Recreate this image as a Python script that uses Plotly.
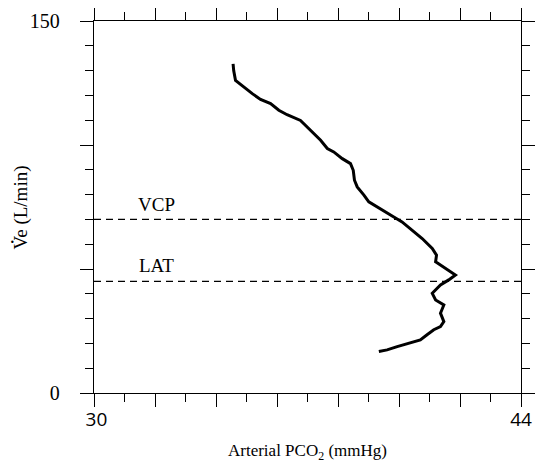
import plotly.graph_objects as go

# Traced curve: arterial PCO2 (mmHg) vs ventilation (L/min)
pco2 = [39.34, 39.61, 39.94, 40.38, 40.70, 40.92, 41.14, 41.36, 41.47, 41.36,
        41.47, 41.20, 41.09, 41.36, 41.63, 41.85, 41.47, 41.20, 41.23, 41.09,
        40.76, 40.43, 40.10, 39.83, 39.39, 39.01, 38.85, 38.63, 38.54, 38.50,
        38.41, 38.14, 37.86, 37.65, 37.43, 37.10, 36.77, 36.33, 36.06, 35.79,
        35.46, 35.19, 34.97, 34.75, 34.64, 34.58, 34.56]
ve = [16.7, 17.4, 18.7, 20.1, 21.4, 23.5, 25.5, 26.8, 28.8, 32.2,
      35.5, 37.5, 40.2, 43.6, 45.6, 47.6, 50.9, 52.9, 55.6, 58.3,
      62.3, 65.7, 69.0, 71.0, 74.4, 77.1, 79.8, 83.1, 85.8, 89.8,
      92.5, 94.5, 97.2, 98.6, 101.9, 105.9, 109.9, 112.2, 114.0, 116.7,
      118.4, 120.7, 122.7, 124.7, 126.0, 130.0, 132.7]

threshold_names = ["VCP", "LAT"]
threshold_values = [70, 45]

x_range = [30, 44]
y_range = [0, 150]
x_major = [30, 32, 34, 36, 38, 40, 42, 44]
x_labels = ["\u00a030", "", "", "", "", "", "", "44"]
y_major = [0, 50, 100, 150]
y_labels = ["0", "", "", "150"]

SERIF = "Liberation Serif"
SANS = "Open Sans"

fig = go.Figure()
fig.add_trace(go.Scatter(x=pco2, y=ve, mode="lines",
                         line=dict(color="black", width=3), showlegend=False))

for name, val in zip(threshold_names, threshold_values):
    fig.add_trace(go.Scatter(x=x_range, y=[val, val], mode="lines",
                             line=dict(color="black", width=1.2, dash="7px,5px"),
                             showlegend=False))

label_pos_x = [32.05, 32.05]
label_pos_y = [76.1, 51.3]
for name, lx, ly in zip(threshold_names, label_pos_x, label_pos_y):
    fig.add_annotation(x=lx, y=ly, text=name, showarrow=False,
                       font=dict(family=SERIF, size=19, color="black"))

fig.add_annotation(xref="paper", yref="paper", x=0.5, y=-0.158,
                   xanchor="center", yanchor="middle",
                   text="Arterial PCO<sub>2</sub> (mmHg)", showarrow=False,
                   font=dict(family=SERIF, size=17, color="black"))
# y-axis title "V̇e (L/min)": text plus the dot over the V (rotated)
fig.add_annotation(xref="paper", yref="paper", x=-0.170, y=0.5, textangle=-90,
                   xanchor="center", yanchor="middle",
                   text="Ve (L/min)", showarrow=False,
                   font=dict(family=SERIF, size=19, color="black"))
fig.add_annotation(xref="paper", yref="paper", x=-0.192, y=0.405,
                   xanchor="center", yanchor="middle",
                   text="\u00b7", showarrow=False,
                   font=dict(family=SERIF, size=20, color="black"))

axis_common = dict(showgrid=False, zeroline=False, showline=True,
                   linecolor="black", linewidth=1.3, mirror="allticks",
                   ticks="outside", ticklen=13, tickwidth=1.3, tickcolor="black")

fig.update_xaxes(range=x_range, tickmode="array", tickvals=x_major, ticktext=x_labels,
                 tickfont=dict(family=SANS, size=19, color="black"),
                 minor=dict(dtick=1, ticklen=8, tickwidth=1.3, tickcolor="black", ticks="outside"),
                 ticklabelstandoff=-4, **axis_common)
fig.update_yaxes(range=y_range, tickmode="array", tickvals=y_major, ticktext=y_labels,
                 tickfont=dict(family=SERIF, size=20, color="black"),
                 minor=dict(dtick=10, ticklen=8, tickwidth=1.3, tickcolor="black", ticks="outside"),
                 ticklabelstandoff=16, **axis_common)

fig.update_layout(width=547, height=469,
                  margin=dict(l=85.5, r=34.3, t=12.7, b=83.7, autoexpand=False),
                  plot_bgcolor="white", paper_bgcolor="white",
                  font=dict(family=SERIF, color="black"))

fig.write_html("out.html")
